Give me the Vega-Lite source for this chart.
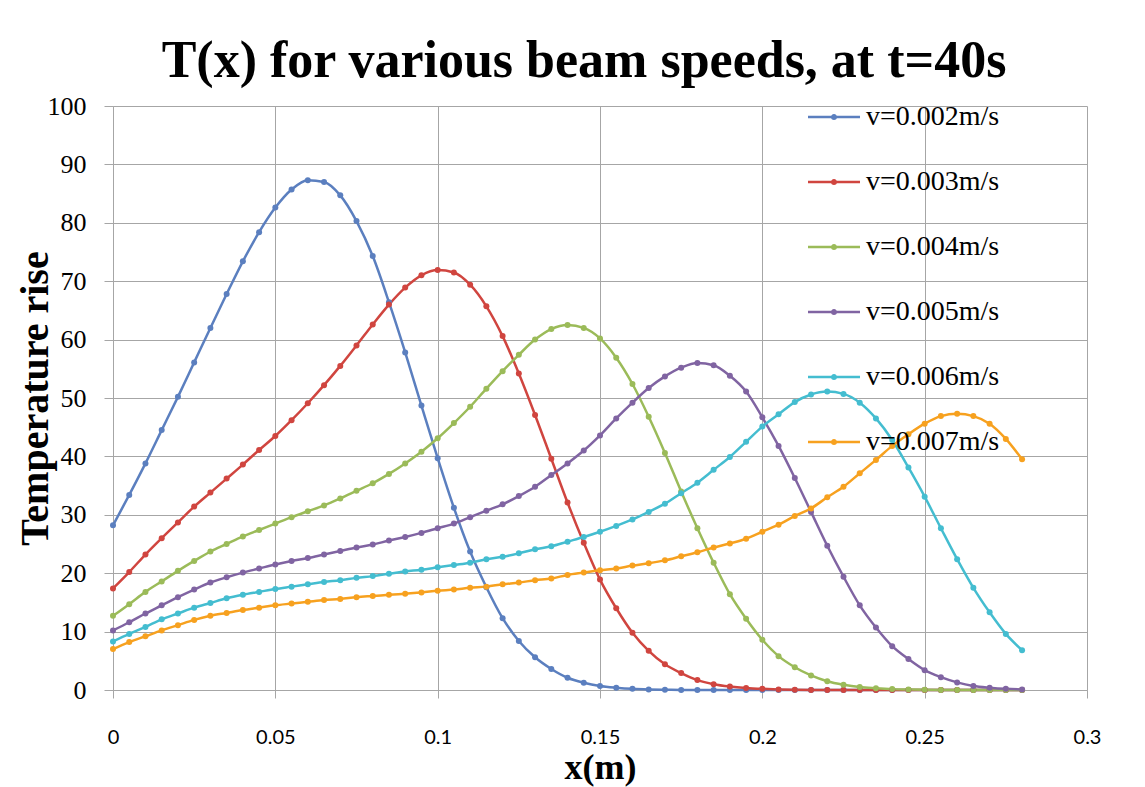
{
 "$schema": "https://vega.github.io/schema/vega-lite/v6.json",
 "width": 974, "height": 584,
 "autosize": {"type": "none"},
 "padding": {"left": 113, "top": 106, "right": 58, "bottom": 97},
 "background": "white",
 "title": {"text": "T(x) for various beam speeds, at t=40s", "font": "Liberation Serif", "fontSize": 52, "fontWeight": "bold", "color": "black", "anchor": "middle", "baseline": "alphabetic", "offset": 19, "dx": -16, "dy": 57},
 "config": {"view": {"stroke": null}, "axis": {"gridColor": "#A6A6A6", "gridWidth": 1, "gridOpacity": 1, "domainColor": "#A6A6A6", "tickColor": "#A6A6A6"}},
 "data": {"values": [
  {"x":0,"a":28.2,"b":17.4,"c":12.7,"d":10.2,"e":8.3,"f":7.0},
  {"x":0.005,"a":33.4,"b":20.2,"c":14.7,"d":11.6,"e":9.6,"f":8.2},
  {"x":0.01,"a":38.8,"b":23.2,"c":16.8,"d":13.1,"e":10.8,"f":9.2},
  {"x":0.015,"a":44.5,"b":26.0,"c":18.6,"d":14.5,"e":12.1,"f":10.2},
  {"x":0.02,"a":50.2,"b":28.7,"c":20.4,"d":15.9,"e":13.1,"f":11.1},
  {"x":0.025,"a":56.1,"b":31.4,"c":22.1,"d":17.2,"e":14.1,"f":12.0},
  {"x":0.03,"a":62.0,"b":33.8,"c":23.7,"d":18.4,"e":14.9,"f":12.7},
  {"x":0.035,"a":67.8,"b":36.2,"c":25.0,"d":19.3,"e":15.7,"f":13.2},
  {"x":0.04,"a":73.4,"b":38.6,"c":26.3,"d":20.1,"e":16.3,"f":13.7},
  {"x":0.045,"a":78.4,"b":41.1,"c":27.4,"d":20.8,"e":16.8,"f":14.1},
  {"x":0.05,"a":82.6,"b":43.5,"c":28.5,"d":21.5,"e":17.3,"f":14.5},
  {"x":0.055,"a":85.7,"b":46.2,"c":29.6,"d":22.1,"e":17.7,"f":14.8},
  {"x":0.06,"a":87.3,"b":49.1,"c":30.6,"d":22.6,"e":18.1,"f":15.1},
  {"x":0.065,"a":87.0,"b":52.2,"c":31.6,"d":23.2,"e":18.5,"f":15.4},
  {"x":0.07,"a":84.7,"b":55.5,"c":32.8,"d":23.8,"e":18.8,"f":15.6},
  {"x":0.075,"a":80.3,"b":59.0,"c":34.1,"d":24.4,"e":19.2,"f":15.9},
  {"x":0.08,"a":74.3,"b":62.6,"c":35.4,"d":24.9,"e":19.5,"f":16.1},
  {"x":0.085,"a":66.4,"b":66.0,"c":37.0,"d":25.6,"e":19.9,"f":16.3},
  {"x":0.09,"a":57.8,"b":68.9,"c":38.8,"d":26.2,"e":20.3,"f":16.5},
  {"x":0.095,"a":48.7,"b":71.0,"c":40.8,"d":26.9,"e":20.6,"f":16.7},
  {"x":0.1,"a":39.7,"b":71.9,"c":43.1,"d":27.7,"e":21.0,"f":17.0},
  {"x":0.105,"a":31.2,"b":71.5,"c":45.7,"d":28.5,"e":21.4,"f":17.2},
  {"x":0.11,"a":23.7,"b":69.4,"c":48.5,"d":29.6,"e":21.8,"f":17.5},
  {"x":0.115,"a":17.6,"b":65.7,"c":51.6,"d":30.7,"e":22.4,"f":17.7},
  {"x":0.12,"a":12.3,"b":60.6,"c":54.6,"d":31.8,"e":22.8,"f":18.1},
  {"x":0.125,"a":8.4,"b":54.2,"c":57.4,"d":33.2,"e":23.4,"f":18.4},
  {"x":0.13,"a":5.6,"b":47.1,"c":60.0,"d":34.8,"e":24.1,"f":18.8},
  {"x":0.135,"a":3.6,"b":39.6,"c":61.8,"d":36.8,"e":24.6,"f":19.1},
  {"x":0.14,"a":2.1,"b":32.1,"c":62.5,"d":38.8,"e":25.4,"f":19.7},
  {"x":0.145,"a":1.25,"b":25.2,"c":62.0,"d":41.0,"e":26.2,"f":20.1},
  {"x":0.15,"a":0.7,"b":18.9,"c":60.2,"d":43.6,"e":27.1,"f":20.5},
  {"x":0.155,"a":0.4,"b":14.0,"c":56.9,"d":46.5,"e":28.1,"f":20.8},
  {"x":0.16,"a":0.2,"b":9.8,"c":52.4,"d":49.2,"e":29.2,"f":21.3},
  {"x":0.165,"a":0.1,"b":6.7,"c":46.8,"d":51.7,"e":30.5,"f":21.7},
  {"x":0.17,"a":0.05,"b":4.4,"c":40.6,"d":53.7,"e":31.9,"f":22.2},
  {"x":0.175,"a":0.02,"b":2.9,"c":34.0,"d":55.2,"e":33.7,"f":22.9},
  {"x":0.18,"a":0.01,"b":1.7,"c":27.7,"d":56.0,"e":35.5,"f":23.6},
  {"x":0.185,"a":0,"b":1.0,"c":21.8,"d":55.6,"e":37.7,"f":24.4},
  {"x":0.19,"a":0,"b":0.6,"c":16.4,"d":53.8,"e":39.9,"f":25.1},
  {"x":0.195,"a":0,"b":0.35,"c":12.2,"d":51.1,"e":42.5,"f":25.9},
  {"x":0.2,"a":0,"b":0.2,"c":8.6,"d":46.7,"e":45.1,"f":27.1},
  {"x":0.205,"a":0,"b":0.1,"c":5.8,"d":41.8,"e":47.2,"f":28.3},
  {"x":0.21,"a":0,"b":0.05,"c":3.9,"d":36.3,"e":49.3,"f":29.8},
  {"x":0.215,"a":0,"b":0.02,"c":2.5,"d":30.5,"e":50.6,"f":31.1},
  {"x":0.22,"a":0,"b":0.01,"c":1.5,"d":24.7,"e":51.1,"f":33.0},
  {"x":0.225,"a":0,"b":0,"c":0.9,"d":19.4,"e":50.7,"f":34.8},
  {"x":0.23,"a":0,"b":0,"c":0.5,"d":14.5,"e":49.2,"f":37.1},
  {"x":0.235,"a":0,"b":0,"c":0.3,"d":10.7,"e":46.5,"f":39.4},
  {"x":0.24,"a":0,"b":0,"c":0.15,"d":7.5,"e":42.8,"f":41.8},
  {"x":0.245,"a":0,"b":0,"c":0.08,"d":5.3,"e":38.1,"f":43.8},
  {"x":0.25,"a":0,"b":0,"c":0.04,"d":3.4,"e":33.1,"f":45.6},
  {"x":0.255,"a":0,"b":0,"c":0.02,"d":2.2,"e":27.7,"f":46.9},
  {"x":0.26,"a":0,"b":0,"c":0.01,"d":1.3,"e":22.4,"f":47.3},
  {"x":0.265,"a":0,"b":0,"c":0,"d":0.7,"e":17.5,"f":46.9},
  {"x":0.27,"a":0,"b":0,"c":0,"d":0.4,"e":13.3,"f":45.6},
  {"x":0.275,"a":0,"b":0,"c":0,"d":0.2,"e":9.6,"f":43.0},
  {"x":0.28,"a":0,"b":0,"c":0,"d":0.1,"e":6.8,"f":39.5}
 ]},
 "transform": [{"fold": ["a", "b", "c", "d", "e", "f"], "as": ["series", "T"]}],
 "encoding": {
  "x": {"field": "x", "type": "quantitative", "scale": {"domain": [0, 0.3], "nice": false, "zero": false},
   "axis": {"values": [0, 0.05, 0.1, 0.15, 0.2, 0.25, 0.3], "format": "~g", "grid": true, "tickSize": 8, "labelPadding": 29, "labelFont": "Lato", "labelFontSize": 20, "labelColor": "black", "labelFlush": false, "labelOverlap": false,
    "title": "x(m)", "titleFont": "Liberation Serif", "titleFontSize": 36, "titleFontWeight": "bold", "titleColor": "black", "titleX": 487, "titleY": 77, "titleAlign": "center", "titleBaseline": "middle"}},
  "y": {"field": "T", "type": "quantitative", "scale": {"domain": [0, 100], "nice": false},
   "axis": {"values": [0, 10, 20, 30, 40, 50, 60, 70, 80, 90, 100], "format": "d", "grid": true, "tickSize": 9, "labelPadding": 18, "labelFont": "Liberation Serif", "labelFontSize": 26, "labelColor": "black", "labelFlush": false, "labelOverlap": false,
    "title": "Temperature rise", "titleFont": "Liberation Serif", "titleFontSize": 40, "titleFontWeight": "bold", "titleColor": "black", "titleX": -78, "titleY": 292, "titleAngle": -90, "titleAlign": "center", "titleBaseline": "middle"}},
  "color": {"field": "series", "type": "nominal",
   "scale": {"domain": ["a", "b", "c", "d", "e", "f"], "range": ["#5B7FBF", "#D0453F", "#9BBB59", "#8064A2", "#44BDD0", "#F7A11F"]},
   "legend": {"orient": "none", "legendX": 695, "legendY": -15, "title": null, "padding": 0,
    "symbolType": "M-1,-0.045L1,-0.045L1,0.045L-1,0.045Z M0.12,0 A0.12,0.12 0 1,1 -0.12,0 A0.12,0.12 0 1,1 0.12,0 Z",
    "symbolSize": 2704, "symbolStrokeWidth": 0, "labelFont": "Liberation Serif", "labelFontSize": 28, "labelColor": "black", "labelOffset": 6, "rowPadding": 25,
    "labelExpr": "datum.value=='a'?'v=0.002m/s':datum.value=='b'?'v=0.003m/s':datum.value=='c'?'v=0.004m/s':datum.value=='d'?'v=0.005m/s':datum.value=='e'?'v=0.006m/s':'v=0.007m/s'",
    "encode": {"symbols": {"update": {"fill": {"scale": "color", "field": "value"}, "stroke": {"value": "transparent"}}}}}}
 },
 "layer": [
  {"mark": {"type": "line", "strokeWidth": 2.5, "interpolate": "monotone"}},
  {"mark": {"type": "point", "filled": true, "size": 36, "opacity": 1}}
 ]
}
